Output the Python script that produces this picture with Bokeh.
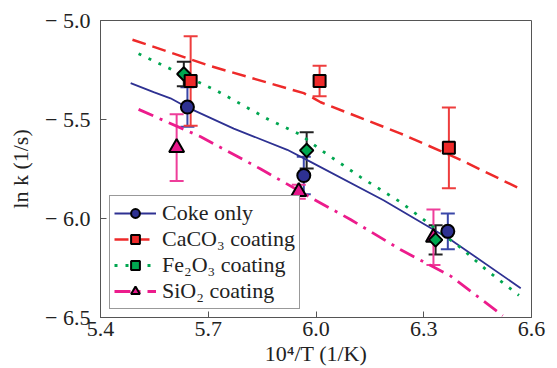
import math
from bokeh.plotting import figure
from bokeh.models import (ColumnDataSource, Whisker, TeeHead, Legend, LegendItem,
                          FixedTicker, CustomJSTickFormatter, Range1d)
from bokeh.embed import file_html
from bokeh.resources import INLINE

# ---------------- data ----------------
coke_x = [5.642, 5.966, 6.367]
coke_y = [-5.437, -5.783, -6.065]
coke_err = [0.10, 0.095, 0.09]

caco3_x = [5.651, 6.010, 6.370]
caco3_y = [-5.306, -5.305, -5.643]
caco3_err = [0.226, 0.077, 0.204]

fe2o3_x = [5.632, 5.974, 6.333]
fe2o3_y = [-5.270, -5.656, -6.108]
fe2o3_err = [0.062, 0.092, 0.074]

sio2_x = [5.612, 5.952, 6.327]
sio2_y = [-5.642, -5.865, -6.095]
sio2_err = [0.168, 0.035, 0.14]

# fitted curves
coke_fx = [5.484, 5.548, 5.595, 5.642, 5.771, 5.920, 5.985, 6.188, 6.375, 6.570]
coke_fy = [-5.316, -5.362, -5.393, -5.439, -5.546, -5.653, -5.714, -5.908, -6.107, -6.352]

caco3_fx = [5.489, 5.706, 5.966, 5.994, 6.013, 6.236, 6.403, 6.570]
caco3_fy = [-5.097, -5.230, -5.367, -5.393, -5.413, -5.571, -5.704, -5.852]

fe2o3_fx = [5.506, 5.726, 5.868, 5.957, 6.013, 6.124, 6.236, 6.403, 6.478, 6.565]
fe2o3_fy = [-5.168, -5.357, -5.500, -5.577, -5.653, -5.791, -5.918, -6.148, -6.265, -6.388]

sio2_fx = [5.506, 5.679, 5.846, 5.994, 6.096, 6.236, 6.375, 6.520]
sio2_fy = [-5.449, -5.587, -5.750, -5.903, -6.005, -6.158, -6.291, -6.490]

x_ticks = [5.4, 5.7, 6.0, 6.3, 6.6]
y_ticks = [-6.5, -6.0, -5.5, -5.0]
labels = ["Coke only", "CaCO\u2083 coating", "Fe\u2082O\u2083 coating", "SiO\u2082 coating"]
x_title = "10\u2074/T (1/K)"
y_title = "ln k (1/s)"

# ---------------- styling ----------------
FONT = "Liberation Serif"
FS = "22px"

p = figure(width=557, height=368, output_backend="svg", toolbar_location=None,
           x_range=Range1d(5.4, 6.6), y_range=Range1d(-6.5, -5.0),
           min_border_left=100, min_border_right=26, min_border_top=20, min_border_bottom=51)
p.xgrid.visible = False
p.ygrid.visible = False
p.outline_line_color = "#555555"
p.outline_line_width = 1
p.background_fill_color = "white"

fmt = CustomJSTickFormatter(code="return (tick < 0 ? '\u2212 ' : '') + Math.abs(tick).toFixed(1);")
for ax, ticks in ((p.xaxis[0], x_ticks), (p.yaxis[0], y_ticks)):
    ax.ticker = FixedTicker(ticks=ticks)
    ax.formatter = fmt
    ax.major_tick_in = 6
    ax.major_tick_out = 0
    ax.minor_tick_line_color = None
    ax.axis_line_color = "#555555"
    ax.major_tick_line_color = "#555555"
    ax.major_label_text_font = FONT
    ax.major_label_text_font_size = FS
    ax.major_label_text_color = "#222222"
    ax.axis_label_text_font = FONT
    ax.axis_label_text_font_size = FS
    ax.axis_label_text_font_style = "normal"
    ax.axis_label_text_color = "#222222"
p.xaxis.major_label_standoff = 4
p.yaxis.major_label_standoff = 10
p.xaxis.axis_label = x_title
p.yaxis.axis_label = y_title
p.xaxis.axis_label_standoff = 2
p.yaxis.axis_label_standoff = 9

series = [
    (coke_x, coke_y, coke_err, coke_fx, coke_fy, "#2e3192", "solid", 1.8,
     "circle", 13, 0.0, "#2e3192", "#3a47a8"),
    (caco3_x, caco3_y, caco3_err, caco3_fx, caco3_fy, "#ee2a2a", "14 7", 2.5,
     "square", 12, 0.0, "#ee2a2a", "#ee3d3d"),
    (fe2o3_x, fe2o3_y, fe2o3_err, fe2o3_fx, fe2o3_fy, "#00a650", "3 8", 2.8,
     "square", 9.5, math.pi / 4, "#00a650", "#222222"),
    (sio2_x, sio2_y, sio2_err, sio2_fx, sio2_fy, "#ec1c8c", "16 7 3 7", 2.8,
     "triangle", 15, 0.0, "#e6178b", "#ee3d9a"),
]

line_renderers = []
for (sx, sy, se, fx, fy, lc, dash, lw, mk, ms, ang, fc, ec) in series:
    r = p.line(fx, fy, line_color=lc, line_dash=dash, line_width=lw)
    line_renderers.append(r)

for (sx, sy, se, fx, fy, lc, dash, lw, mk, ms, ang, fc, ec) in series:
    src = ColumnDataSource(dict(x=sx, up=[a + b for a, b in zip(sy, se)],
                                lo=[a - b for a, b in zip(sy, se)]))
    w = Whisker(source=src, base="x", upper="up", lower="lo", dimension="height",
                line_color=ec, line_width=2,
                upper_head=TeeHead(size=14, line_color=ec, line_width=2),
                lower_head=TeeHead(size=14, line_color=ec, line_width=2))
    p.add_layout(w)

tmp = {}
for i in [3, 2, 1, 0]:
    (sx, sy, se, fx, fy, lc, dash, lw, mk, ms, ang, fc, ec) = series[i]
    tmp[i] = p.scatter(sx, sy, marker=mk, size=ms, angle=ang, fill_color=fc,
                       line_color="black", line_width=2)
marker_renderers = [tmp[i] for i in range(4)]

items = [LegendItem(label=labels[i], renderers=[line_renderers[i], marker_renderers[i]])
         for i in range(4)]
legend = Legend(items=items, location=(9, 8))
legend.label_text_font = FONT
legend.label_text_font_size = FS
legend.label_text_color = "#222222"
legend.glyph_width = 42
legend.glyph_height = 22
legend.label_height = 22
legend.label_standoff = 6
legend.spacing = -1
legend.padding = 4
legend.margin = 0
legend.border_line_color = "#333333"
legend.border_line_width = 1
legend.background_fill_alpha = 1
p.add_layout(legend)

open("out.html", "w").write(file_html(p, INLINE))
